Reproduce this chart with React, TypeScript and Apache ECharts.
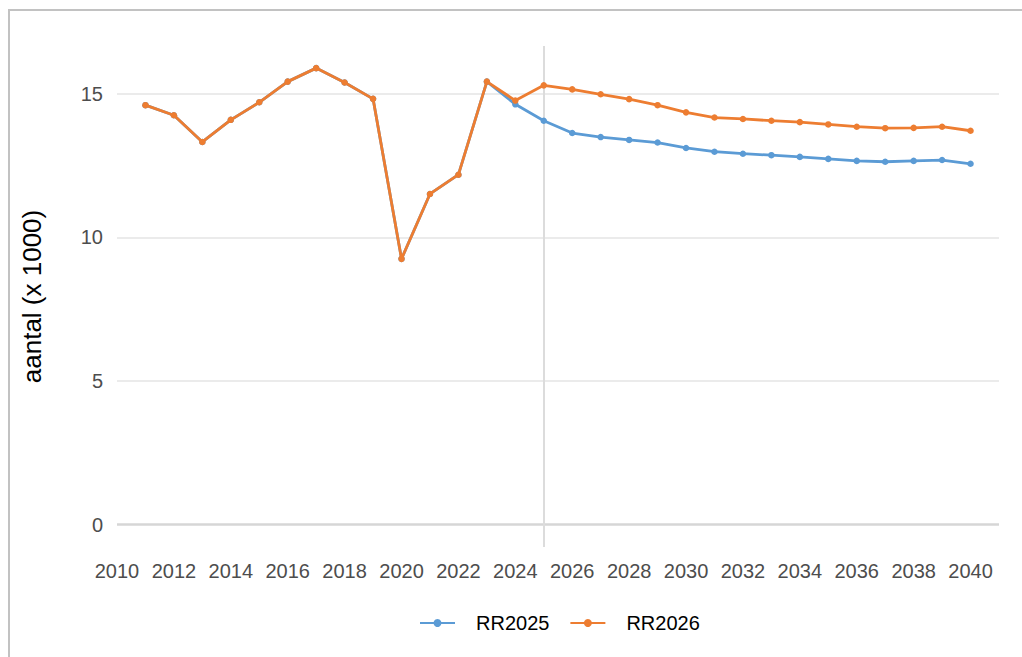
import React, { useEffect, useRef } from "react";
import * as echarts from "echarts";

const years = [2011, 2012, 2013, 2014, 2015, 2016, 2017, 2018, 2019, 2020, 2021, 2022, 2023, 2024, 2025, 2026, 2027, 2028, 2029, 2030, 2031, 2032, 2033, 2034, 2035, 2036, 2037, 2038, 2039, 2040];
const rr2025 = [14.6, 14.25, 13.32, 14.09, 14.7, 15.42, 15.89, 15.39, 14.82, 9.25, 11.51, 12.18, 15.42, 14.63, 14.06, 13.63, 13.49, 13.39, 13.3, 13.11, 12.98, 12.91, 12.86, 12.8, 12.73, 12.66, 12.63, 12.66, 12.69, 12.56];
const rr2026 = [14.6, 14.25, 13.32, 14.09, 14.7, 15.42, 15.89, 15.39, 14.82, 9.25, 11.51, 12.18, 15.42, 14.76, 15.29, 15.15, 14.98, 14.81, 14.6, 14.35, 14.17, 14.12, 14.06, 14.01, 13.93, 13.85, 13.8, 13.81, 13.85, 13.71];
const yTicks = [0, 5, 10, 15];
const xTicks = [2010, 2012, 2014, 2016, 2018, 2020, 2022, 2024, 2026, 2028, 2030, 2032, 2034, 2036, 2038, 2040];
const markerYear = 2025;
const seriesNames = ["RR2025", "RR2026"];

export default function App() {
  const ref = useRef<HTMLDivElement>(null);
  useEffect(() => {
    document.body.style.margin = "0";
    const chart = echarts.init(ref.current!, null, { renderer: "svg" });
    const font = "'Liberation Sans', Arial, sans-serif";
    chart.setOption({
      animation: false,
      textStyle: { fontFamily: font },
      graphic: [
        {
          type: "rect",
          shape: { x: 9, y: 10, width: 1100, height: 800 },
          style: { fill: "none", stroke: "#c2c2c2", lineWidth: 2 },
          silent: true,
          z: -10,
        },
      ],
      grid: { left: 117, right: 23, top: 46, bottom: 110 },
      legend: {
        bottom: 19,
        left: 414,
        itemWidth: 35,
        itemHeight: 10,
        itemGap: 20,
        textStyle: { fontSize: 20, color: "#000", fontFamily: font, padding: [0, 0, 0, 16] },
        data: seriesNames,
      },
      xAxis: {
        type: "value",
        min: 2010,
        max: 2041,
        interval: 2,
        axisLine: { show: false },
        axisTick: { show: false },
        splitLine: { show: false },
        axisLabel: {
          fontSize: 20,
          color: "#4d4d4d",
          margin: 14,
          fontFamily: font,
          customValues: xTicks,
          formatter: (v: number) => String(v),
        },
      },
      yAxis: {
        type: "value",
        min: -0.78,
        max: 16.66,
        name: "aantal (x 1000)",
        nameLocation: "middle",
        nameGap: 72,
        nameTextStyle: { fontSize: 26, color: "#000", fontFamily: font },
        axisLine: { show: false },
        axisTick: { show: false },
        splitLine: { show: false },
        axisLabel: {
          fontSize: 20,
          color: "#4d4d4d",
          margin: 14,
          fontFamily: font,
          customValues: yTicks,
          formatter: (v: number) => String(v),
        },
      },
      series: [
        {
          name: seriesNames[0],
          type: "line",
          data: years.map((y, i) => [y, rr2025[i]]),
          symbol: "circle",
          symbolSize: 6.5,
          lineStyle: { width: 2.8, color: "#5B9BD5" },
          itemStyle: { color: "#5B9BD5" },
          z: 3,
          markLine: {
            silent: true,
            symbol: "none",
            z: 1,
            label: { show: false },
            data: [
              ...yTicks.map((t) => ({
                yAxis: t,
                lineStyle: { type: "solid", color: t === 0 ? "#d6d6d6" : "#ebebeb", width: t === 0 ? 2.5 : 2 },
              })),
              { xAxis: markerYear, lineStyle: { type: "solid", color: "#dcdcdc", width: 2 } },
            ],
          },
        },
        {
          name: seriesNames[1],
          type: "line",
          data: years.map((y, i) => [y, rr2026[i]]),
          symbol: "circle",
          symbolSize: 6.5,
          lineStyle: { width: 2.8, color: "#ED7D31" },
          itemStyle: { color: "#ED7D31" },
          z: 4,
        },
      ],
    });
    return () => chart.dispose();
  }, []);
  return <div ref={ref} style={{ width: 1022, height: 657 }} />;
}
